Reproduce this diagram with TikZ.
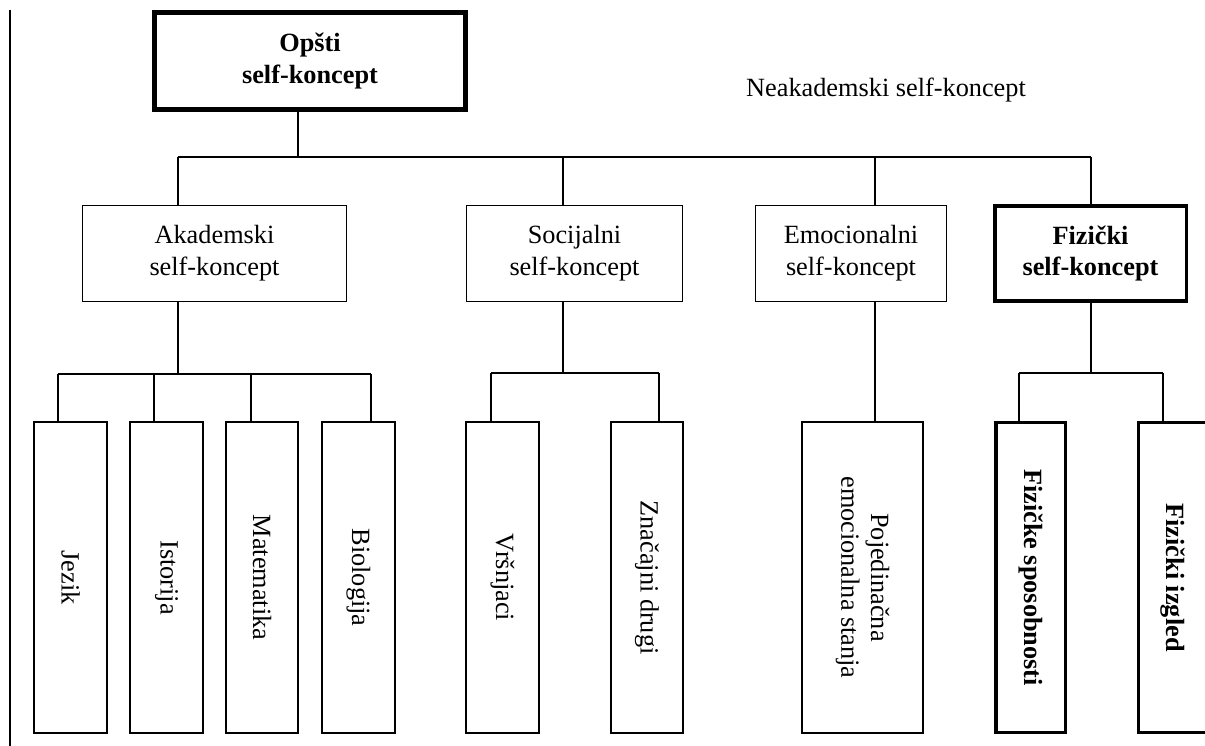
\documentclass[tikz,border=0pt]{standalone}
\usepackage{fontspec}
\setmainfont{Liberation Serif}
\begin{document}
\begin{tikzpicture}[x=1pt,y=-1pt,
  txt/.style={font=\fontsize{26.3}{31.7}\selectfont},
  box/.style={draw, line width=1.3pt, inner sep=0pt, outer sep=0pt, txt, align=center},
  boldbox/.style={box, font=\fontsize{26.3}{31.7}\selectfont\bfseries},
  tallbox/.style={box, minimum width=#1, minimum height=311},
  conn/.style={draw, line width=1.3pt}]
\useasboundingbox (0,0) rectangle (1205,746);
\clip (0,0) rectangle (1205,746);

% left margin rule
\coordinate (m1) at (10,10);
\coordinate (m2) at (10,746);
\draw[line width=2pt] (m1) -- (m2);

% top
\node[boldbox, line width=5pt, minimum width=311, minimum height=97] (opsti) at (310,61) {Opšti\\self-koncept};
\node[txt, anchor=base] (neak) at (886,97) {Neakademski self-koncept};

% level 2
\node[box, minimum width=264, minimum height=96] (akad) at (214.5,253.5) {Akademski\\self-koncept};
\node[box, minimum width=216, minimum height=96] (soc) at (574.5,253.5) {Socijalni\\self-koncept};
\node[box, minimum width=191, minimum height=96] (emo) at (851,253.5) {Emocionalni\\self-koncept};
\node[boldbox, line width=3.5pt, minimum width=191.5, minimum height=95] (fiz) at (1090.5,253.5) {Fizički\\self-koncept};

% level 3
\node[tallbox=73] (jez) at (70.5,577.5) {\rotatebox{-90}{Jezik}};
\node[tallbox=73] (ist) at (166.5,577.5) {\rotatebox{-90}{Istorija}};
\node[tallbox=72] (mat) at (262,577.5) {\rotatebox{-90}{Matematika}};
\node[tallbox=73] (bio) at (358.5,577.5) {\rotatebox{-90}{Biologija}};
\node[tallbox=73] (vrs) at (502.5,577.5) {\rotatebox{-90}{Vršnjaci}};
\node[tallbox=72] (zna) at (647,577.5) {\rotatebox{-90}{Značajni drugi}};
\node[tallbox=121] (poj) at (862.5,577.5) {\rotatebox{-90}{\begin{tabular}{@{}c@{}}Pojedinačna\\[-2pt]emocionalna stanja\end{tabular}}};
\node[tallbox=69.5, line width=3.5pt, font=\fontsize{26.3}{31.7}\selectfont\bfseries, minimum height=310] (spo) at (1030.5,577.5) {\rotatebox{-90}{Fizičke sposobnosti}};
\node[tallbox=69.5, line width=3.5pt, font=\fontsize{26.3}{31.7}\selectfont\bfseries, minimum height=310] (izg) at (1173,577.5) {\rotatebox{-90}{Fizički izgled}};

% junctions
\coordinate (t0) at (298,157);
\coordinate (ta) at (178,157);
\coordinate (ts) at (563,157);
\coordinate (te) at (875,157);
\coordinate (tf) at (1091,157);

\coordinate (ab) at (178,374);
\coordinate (a1) at (58,374);
\coordinate (a2) at (154,374);
\coordinate (a3) at (251,374);
\coordinate (a4) at (371,374);

\coordinate (sb) at (563,373);
\coordinate (s1) at (491,373);
\coordinate (s2) at (659,373);

\coordinate (fb) at (1091,373);
\coordinate (f1) at (1019,373);
\coordinate (f2) at (1163,373);

% connectors top
\draw[conn] (opsti.south -| t0) -- (t0);
\draw[conn] (ta) -- (tf);
\draw[conn] (ta) -- (akad.north -| ta);
\draw[conn] (ts) -- (soc.north -| ts);
\draw[conn] (te) -- (emo.north -| te);
\draw[conn] (tf) -- (fiz.north -| tf);

% academic
\draw[conn] (akad.south -| ab) -- (ab);
\draw[conn] (a1) -- (a4);
\draw[conn] (a1) -- (jez.north -| a1);
\draw[conn] (a2) -- (ist.north -| a2);
\draw[conn] (a3) -- (mat.north -| a3);
\draw[conn] (a4) -- (bio.north -| a4);

% social
\draw[conn] (soc.south -| sb) -- (sb);
\draw[conn] (s1) -- (s2);
\draw[conn] (s1) -- (vrs.north -| s1);
\draw[conn] (s2) -- (zna.north -| s2);

% emotional
\draw[conn] (emo.south -| te) -- (poj.north -| te);

% physical
\draw[conn] (fiz.south -| fb) -- (fb);
\draw[conn] (f1) -- (f2);
\draw[conn] (f1) -- (spo.north -| f1);
\draw[conn] (f2) -- (izg.north -| f2);
\end{tikzpicture}
\end{document}
